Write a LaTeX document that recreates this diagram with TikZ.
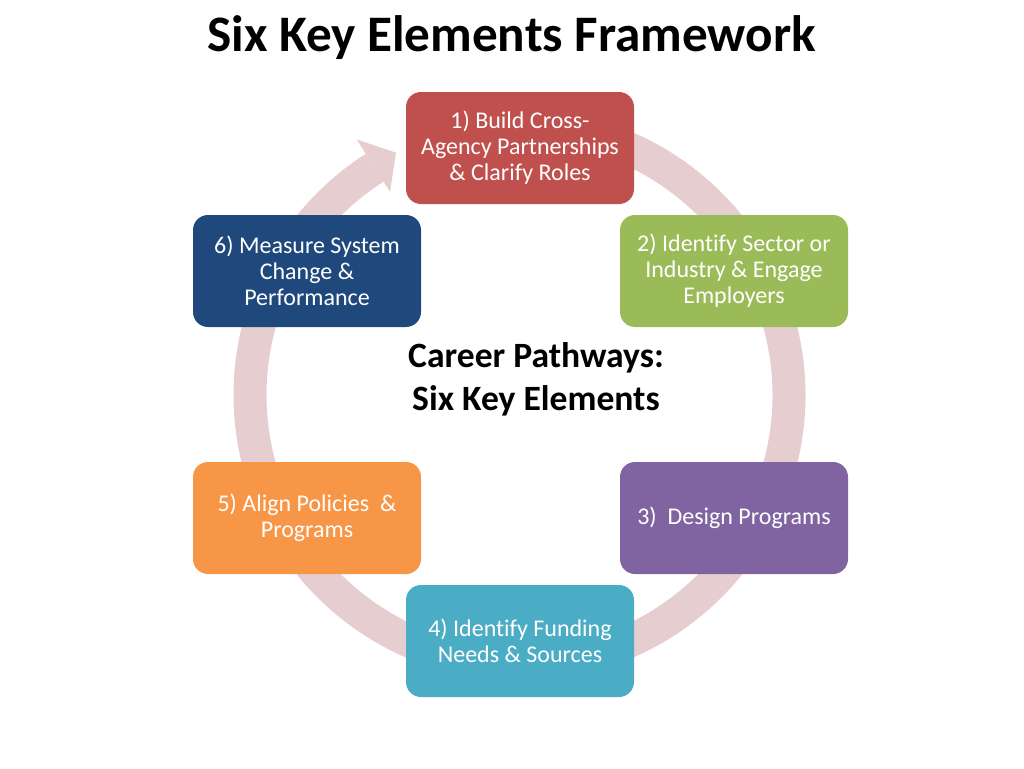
\documentclass[tikz,border=0pt]{standalone}
\usepackage{fontspec}
\setmainfont{Carlito}[Ligatures=NoCommon]
\usetikzlibrary{positioning}

\definecolor{ringpink}{RGB}{230,206,208}
\definecolor{boxred}{RGB}{192,80,77}
\definecolor{boxgreen}{RGB}{155,187,89}
\definecolor{boxpurple}{RGB}{128,100,162}
\definecolor{boxcyan}{RGB}{75,172,198}
\definecolor{boxorange}{RGB}{247,150,70}
\definecolor{boxblue}{RGB}{31,73,125}

\begin{document}
\begin{tikzpicture}[x=0.5pt,y=0.5pt,
 element/.style={rounded corners=7.5pt,minimum width=114pt,minimum height=56pt,
  text=white,align=center,inner sep=2pt,font=\fontsize{12}{13}\selectfont}]
 \useasboundingbox (0,0) rectangle (1024,768);
 % ring with arrow head
 \coordinate (hub) at (519.5,373);
 \draw[ringpink,line width=16.5pt] ([shift={(95:269.5)}]hub) arc[start angle=95,end angle=-237.5,radius=269.5];
 \fill[ringpink] ([shift={(122.5:241)}]hub)--([shift={(122.5:303)}]hub)--([shift={(117:272)}]hub)--cycle;
 % title and centre
 \node (title) at (511.5,730) {\fontsize{25.6}{30}\selectfont\bfseries Six Key Elements Framework};
 \node (centre) at (536,389) [align=center,font=\fontsize{17.8}{21.5}\selectfont\bfseries] {Career Pathways:\\Six Key Elements};
 % the six elements
 \node[element,fill=boxred] (build) at (520,620) {1) Build Cross-\\Agency Partnerships\\\& Clarify Roles};
 \node[element,fill=boxgreen] (sector) at (734,497) {2) Identify Sector or\\Industry \& Engage\\Employers};
 \node[element,fill=boxpurple] (design) at (734,250) {3)~ Design Programs};
 \node[element,fill=boxcyan] (funding) at (520,127) {4) Identify Funding\\Needs \& Sources};
 \node[element,fill=boxorange] (policy) at (307,250) {5) Align Policies~ \&\\Programs};
 \node[element,fill=boxblue] (measure) at (307,497) {6) Measure System\\Change \&\\Performance};
\end{tikzpicture}
\end{document}
